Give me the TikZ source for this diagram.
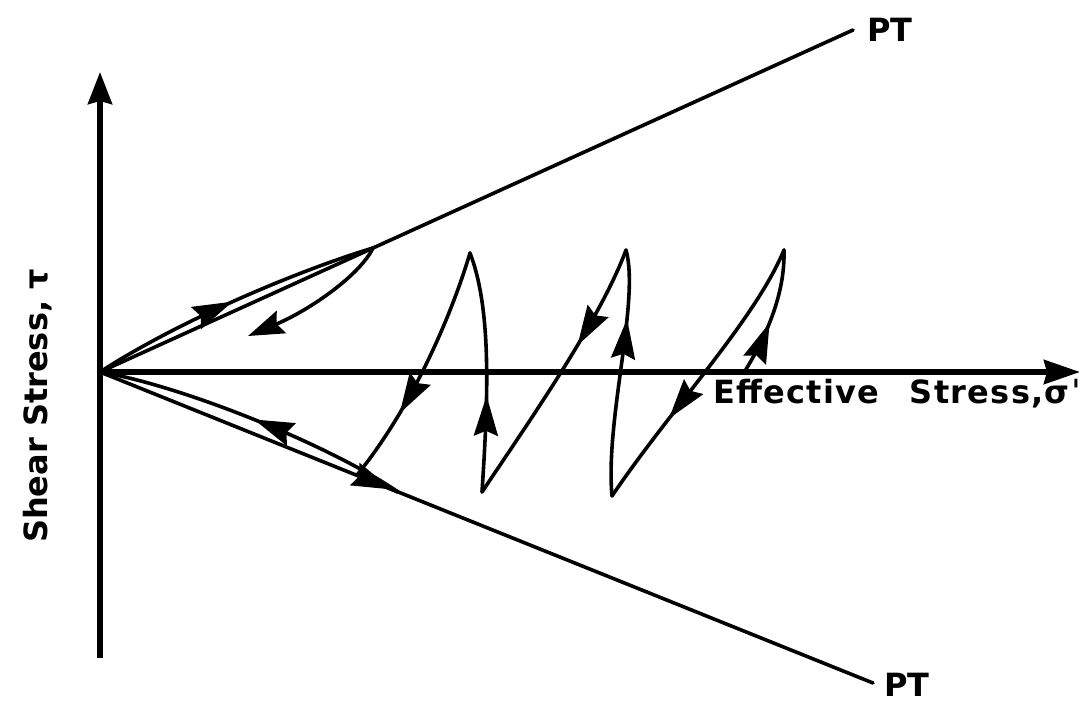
\documentclass[tikz,border=0pt]{standalone}
\usepackage{fontspec}
\newfontfamily\lbl{DejaVu Sans Bold}
\newfontfamily\lblw[LetterSpace=4]{DejaVu Sans Bold}
\usetikzlibrary{arrows.meta,decorations.markings}
\begin{document}
\begin{tikzpicture}[x=1pt,y=-1pt,
  axis/.style={line width=5.5pt},
  ptline/.style={line width=3.6pt, line cap=round},
  spath/.style={line width=3.6pt, line join=round, line cap=round},
  midarrow/.style={postaction={decorate},decoration={markings,mark=at position #1 with {\arrow{Stealth[length=40pt,width=24pt,inset=5pt]}}}},
  lab/.style={font=\lbl\fontsize{32}{32}\selectfont, inner sep=0pt, text depth=0pt}]
\useasboundingbox (0,0) rectangle (1092,702);
% key points
\coordinate (O) at (100,372);
\coordinate (Ytop) at (100,72);
\coordinate (Ybot) at (100,658);
\coordinate (Xend) at (1080,372);
\coordinate (U) at (853,30);
\coordinate (L) at (873,683);
\coordinate (A) at (373,248);
\coordinate (T) at (248,336);
\coordinate (S) at (745,371);
\coordinate (P3) at (784,250);
\coordinate (B2) at (612,496);
\coordinate (P2) at (626,250);
\coordinate (B1) at (482,492);
\coordinate (P1) at (470,253);
\coordinate (J) at (357,475);
\coordinate (LP) at (398,492);
% axes
\draw[axis,-{Stealth[length=32pt,width=24pt,inset=3pt]}] (Ybot) -- (Ytop);
\draw[axis,-{Stealth[length=36pt,width=24pt,inset=3pt]}] (O) -- (Xend);
% phase transformation lines
\draw[ptline] (O) -- (U);
\draw[ptline] (O) -- (L);
% labels
\node[lab, font=\lblw\fontsize{32}{32}\selectfont, anchor=base west] (xl) at (713,403) {Effective\hspace{18pt} Stress,σˈ};
\node[lab, rotate=90] (yl) at (35,406) {Shear Stress, τ};
\node[lab, anchor=base] (pt1) at (890,41) {PT};
\node[lab, anchor=base] (pt2) at (907,696) {PT};
% stress path
\draw[spath, midarrow=0.42] (S) .. controls (770,330) and (785,290) .. (P3);
\draw[spath, midarrow=0.68] (P3) .. controls (755,320) and (670,410) .. (B2);
\draw[spath, midarrow=0.72] (B2) .. controls (605,420) and (640,300) .. (P2);
\draw[spath, midarrow=0.38] (P2) .. controls (600,320) and (530,420) .. (B1);
\draw[spath, midarrow=0.4] (B1) .. controls (488,400) and (492,310) .. (P1);
\draw[spath, midarrow=0.7] (P1) .. controls (450,320) and (410,410) .. (J);
\draw[spath, midarrow=0.85] (J) -- (LP);
\draw[spath, midarrow=0.5] (LP) .. controls (330,445) and (180,385) .. (O);
\draw[spath, midarrow=0.5] (O) .. controls (180,320) and (300,270) .. (A);
\draw[spath, -{Stealth[length=36pt,width=24pt,inset=5pt]}] (A) .. controls (360,275) and (310,310) .. (T);
\end{tikzpicture}
\end{document}
